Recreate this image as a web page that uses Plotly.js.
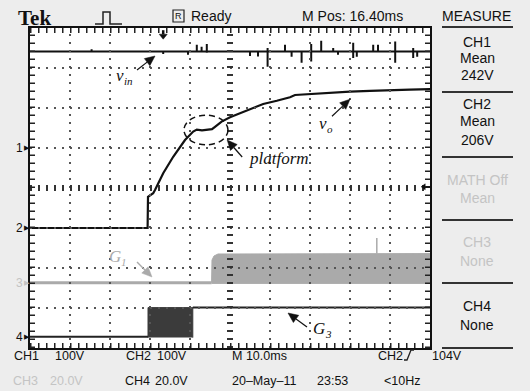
<!DOCTYPE html>
<html><head><meta charset="utf-8">
<script src="https://cdn.plot.ly/plotly-3.0.1.min.js"></script>
<style>html,body{margin:0;padding:0;background:#ededed;}</style>
</head><body><div id="chart" style="width:530px;height:391px;"></div>
<script>
// ---------- data (oscilloscope divisions: x 0..10, y -4..4) ----------
const vinBase = 3.41;
const vinSpikeX   = [1.54, 3.33, 3.95, 4.17, 4.29, 4.42, 5.5, 5.7, 5.94, 6.375, 6.54, 6.79, 7.03, 7.28, 7.58, 7.7, 8.08, 8.17, 8.58, 8.7, 9.13, 9.58, 9.68];
const vinSpikeTop = [3.47, 3.41, 3.41, 3.58, 3.53, 3.60, 3.41, 3.41, 3.50, 3.58, 3.41, 3.41, 3.60, 3.68, 3.50, 3.41, 3.63, 3.41, 3.58, 3.58, 3.66, 3.50, 3.41];
const vinSpikeBot = [3.41, 3.35, 3.33, 3.41, 3.41, 3.38, 3.30, 3.29, 3.03, 3.41, 3.28, 3.13, 3.16, 3.41, 3.41, 3.33, 3.25, 3.28, 3.41, 3.41, 3.13, 3.25, 3.28];

const voX = [0, 2.94, 2.95, 3.08, 3.125, 3.33, 3.58, 3.875, 4.08, 4.17, 4.3, 4.45, 4.55, 4.625, 4.79, 5.0, 5.25, 5.5, 5.83, 6.17, 6.5, 6.625, 7.0, 7.5, 8.0, 8.5, 9.0, 9.5, 10];
const voY = [-1, -1, -0.22, -0.13, -0.05, 0.37, 0.78, 1.2, 1.41, 1.46, 1.44, 1.45, 1.47, 1.53, 1.66, 1.77, 1.87, 1.97, 2.1, 2.18, 2.27, 2.325, 2.35, 2.38, 2.41, 2.43, 2.45, 2.46, 2.47];

const g1Low = -2.37;
const g1SwitchStart = 4.54;
const g1TopX = [4.54, 4.55, 4.6, 4.7, 10];
const g1TopY = [-2.37, -1.8, -1.7, -1.65, -1.64];
const g1SpikeX = 8.67, g1SpikeTop = -1.25;

const g3Low = -3.72, g3High = -2.99;
const g3PulseStart = 2.95, g3PulseEnd = 4.07;

// ---------- helpers ----------
const PX = x => (x - 30) / 400;     // pixel -> paper
const PY = y => (348 - y) / 320;
const SANS = 'Liberation Sans, Arial, sans-serif';
const SERIF = 'Liberation Serif, Times New Roman, serif';
const INK = '#111111', LIGHT = '#c4c4c4', G1C = '#aaaaaa';

// v_in polyline from spike arrays
const vinX = [0], vinY = [vinBase];
vinSpikeX.forEach((x, i) => {
  vinX.push(x, x, x, x);
  vinY.push(vinBase, vinSpikeTop[i], vinSpikeBot[i], vinBase);
});
vinX.push(10); vinY.push(vinBase);

const traces = [
  {x: g1TopX.concat([10, g1SwitchStart]), y: g1TopY.concat([g1Low - 0.015, g1Low - 0.015]),
   fill: 'toself', fillcolor: G1C, line: {color: G1C, width: 1}, mode: 'lines', hoverinfo: 'skip'},
  {x: [0, g1SwitchStart], y: [g1Low, g1Low], mode: 'lines', line: {color: G1C, width: 3}},
  {x: [g1SpikeX, g1SpikeX], y: [g1TopY[g1TopY.length - 1], g1SpikeTop], mode: 'lines', line: {color: G1C, width: 1.5}},
  {x: [g3PulseStart, g3PulseStart, g3PulseEnd, g3PulseEnd], y: [g3Low - 0.02, g3High, g3High, g3Low - 0.02],
   fill: 'toself', fillcolor: '#3b3b3b', line: {color: '#3b3b3b', width: 1}, mode: 'lines'},
  {x: [0, g3PulseStart], y: [g3Low, g3Low], mode: 'lines', line: {color: '#222', width: 2}},
  {x: [g3PulseEnd, 10], y: [g3High, g3High], mode: 'lines', line: {color: '#222', width: 2}},
  {x: vinX, y: vinY, mode: 'lines', line: {color: INK, width: 2}},
  {x: voX, y: voY, mode: 'lines', line: {color: INK, width: 2.2, shape: 'linear'}}
];

// ---------- grid & graticule as shapes ----------
const shapes = [];
const GRID = '#555555';
for (let i = 1; i < 10; i++) if (i !== 5)
  shapes.push({type: 'line', xref: 'x', yref: 'y', x0: i, x1: i, y0: -4, y1: 4, layer: 'above',
    line: {color: GRID, width: 2, dash: '2px,6px'}});
for (let j = -3; j < 4; j++) if (j !== 0)
  shapes.push({type: 'line', xref: 'x', yref: 'y', x0: 0, x1: 10, y0: j, y1: j, layer: 'above',
    line: {color: GRID, width: 2, dash: '2px,6px'}});
// centre cross with tick marks
shapes.push({type: 'line', xref: 'x', yref: 'y', x0: 0, x1: 10, y0: 0, y1: 0, layer: 'above',
  line: {color: '#333', width: 6, dash: '2px,6px'}});
shapes.push({type: 'line', xref: 'x', yref: 'y', x0: 5, x1: 5, y0: -4, y1: 4, layer: 'above',
  line: {color: '#333', width: 6, dash: '2px,6px'}});
// border ticks
const t = 2.5 / 40;
[[0, 10, 4 - t, 4 - t], [0, 10, -4 + t, -4 + t]].forEach(a => shapes.push({type: 'line', xref: 'x', yref: 'y',
  x0: a[0], x1: a[1], y0: a[2], y1: a[3], layer: 'above', line: {color: '#222', width: 5, dash: '1.5px,6.5px'}}));
[[t, t], [10 - t, 10 - t]].forEach(a => shapes.push({type: 'line', xref: 'x', yref: 'y',
  x0: a[0], x1: a[1], y0: -4, y1: 4, layer: 'above', line: {color: '#222', width: 5, dash: '1.5px,6.5px'}}));
// platform dashed ellipse
shapes.push({type: 'circle', xref: 'x', yref: 'y', x0: 3.85, x1: 4.95, y0: 1.08, y1: 1.82, layer: 'above',
  line: {color: INK, width: 1.5, dash: '6px,4px'}});
// right panel separators
[27, 92, 157, 220, 283, 348].forEach(y => shapes.push({type: 'line', xref: 'paper', yref: 'paper',
  x0: PX(442), x1: PX(513), y0: PY(y), y1: PY(y), line: {color: '#333', width: 2}}));
// header pulse icon
const P = (x, y) => PX(x) + ',' + PY(y);
shapes.push({type: 'path', xref: 'paper', yref: 'paper',
  path: 'M' + P(95, 24) + 'L' + P(103, 24) + 'L' + P(103, 12) + 'L' + P(110, 12) + 'L' + P(110, 24) + 'L' + P(122, 24),
  line: {color: '#222', width: 1.5}});
// R box
shapes.push({type: 'rect', xref: 'paper', yref: 'paper', x0: PX(173), x1: PX(184), y0: PY(22), y1: PY(10),
  line: {color: '#222', width: 1.2}});
// trigger slope symbol
shapes.push({type: 'path', xref: 'paper', yref: 'paper',
  path: 'M' + P(404, 360) + 'L' + P(407, 360) + 'L' + P(411, 350) + 'L' + P(414, 350),
  line: {color: '#222', width: 1.3}});

// arrows drawn as shapes (head in data units, tail offset in px; 1 div = 40 px)
function arrowShape(hx, hy, ax, ay, color, stemW, L, W) {
  const tx = hx + ax / 40, ty = hy - ay / 40;
  let ux = hx - tx, uy = hy - ty;
  const n = Math.hypot(ux, uy); ux /= n; uy /= n;
  const bx = hx - ux * L / 40, by = hy - uy * L / 40;
  const nx = -uy * W / 40, ny = ux * W / 40;
  shapes.push({type: 'line', xref: 'x', yref: 'y', x0: tx, y0: ty, x1: bx, y1: by, layer: 'above',
    line: {color: color, width: stemW}});
  shapes.push({type: 'path', xref: 'x', yref: 'y', layer: 'above', fillcolor: color, line: {color: color, width: 0.5},
    path: 'M' + hx + ',' + hy + 'L' + (bx + nx) + ',' + (by + ny) + 'L' + (bx - nx) + ',' + (by - ny) + 'Z'});
}
arrowShape(3.33, 3.72, 0, -9, INK, 2.5, 5, 4);   // trigger position
arrowShape(9.78, 0.03, 9, 0, INK, 1.5, 4, 3);    // trigger level
arrowShape(3.125, 3.3, -18, 14, INK, 1.2, 10, 4.5);
arrowShape(8.0, 2.22, -18, 17, INK, 1.2, 10, 4.5);
arrowShape(4.93, 1.2, 15, 17, INK, 1.2, 10, 4.5);
arrowShape(3.05, -2.225, -15, -15, G1C, 1.4, 10, 4.5);
arrowShape(6.45, -3.125, 19, 14, INK, 1.2, 10, 4.5);

// ---------- annotations ----------
const ann = [];
function txt(x, y, text, size, color, extra) {
  ann.push(Object.assign({xref: 'paper', yref: 'paper', x: PX(x), y: PY(y), text: text, showarrow: false,
    xanchor: 'center', yanchor: 'middle', font: {family: SANS, size: size, color: color}}, extra || {}));
}
// header
txt(34, 18, '<b>Tek</b>', 21, INK, {font: {family: SERIF, size: 21, color: INK}});
txt(178.5, 16, 'R', 9, INK);
txt(211, 16, 'Ready', 14, INK);
txt(352, 16, 'M Pos: 16.40ms', 14, INK);
txt(476, 16, 'MEASURE', 14, INK);
// right panel
txt(477, 42, 'CH1', 14, INK); txt(477, 58, 'Mean', 14, INK); txt(477, 75, '242V', 14, INK);
txt(477, 104, 'CH2', 14, INK); txt(477, 121, 'Mean', 14, INK); txt(477, 140, '206V', 14, INK);
txt(477, 180, 'MATH Off', 14, LIGHT); txt(477, 198, 'Mean', 14, LIGHT);
txt(477, 242, 'CH3', 14, LIGHT); txt(477, 261, 'None', 14, LIGHT);
txt(477, 306, 'CH4', 14, INK); txt(477, 325, 'None', 14, INK);
// bottom rows
txt(26.5, 356, 'CH1', 12.5, INK); txt(70, 356, '100V', 12.5, INK);
txt(138, 356, 'CH2', 12.5, INK); txt(172, 356, '100V', 12.5, INK);
txt(230, 356, 'M 10.0ms', 12.5, INK, {xanchor: 'left'});
txt(390, 356, 'CH2', 12.5, INK); txt(447, 356, '104V', 12.5, INK);
txt(25.5, 381, 'CH3', 12.5, LIGHT); txt(66, 381, '20.0V', 12.5, LIGHT);
txt(137, 381, 'CH4', 12.5, INK); txt(171, 381, '20.0V', 12.5, INK);
txt(230, 381, '20\u2013May\u201311', 12.5, INK, {xanchor: 'left'});
txt(315, 381, '23:53', 12.5, INK, {xanchor: 'left'});
txt(402, 381, '<10Hz', 12.5, INK);
// channel markers
[[148, '1', INK], [228, '2', INK], [283, '3', LIGHT], [337, '4', INK]].forEach(m => {
  txt(19, m[0], m[1], 12, m[2]);
  txt(26.5, m[0], '\u25B6', 7, m[2], {font: {family: 'DejaVu Sans', size: 7, color: m[2]}});
});
// trace labels (main letter + subscript as separate italic texts)
const LBL = (x, y, t, color, size, anchor) => ann.push({xref: 'x', yref: 'y', x: x, y: y, text: '<i>' + t + '</i>', showarrow: false,
  xanchor: anchor || 'center', yanchor: 'middle', font: {family: SERIF, size: size || 17, color: color}});
LBL(2.245, 2.82, 'v', INK); LBL(2.45, 2.68, 'in', INK, 11);
LBL(7.32, 1.62, 'v', INK); LBL(7.5, 1.48, 'o', INK, 11);
LBL(5.43, 0.75, 'platform', INK, 17, 'left');
LBL(2.125, -1.71, 'G', G1C); LBL(2.35, -1.85, '1', G1C, 11);
LBL(7.225, -3.51, 'G', INK); LBL(7.45, -3.65, '3', INK, 11);

const layout = {
  width: 530, height: 391,
  margin: {l: 30, r: 100, t: 28, b: 43},
  paper_bgcolor: '#ededed', plot_bgcolor: '#ffffff',
  showlegend: false,
  xaxis: {range: [0, 10], showgrid: false, zeroline: false, showticklabels: false, ticks: '',
    showline: true, mirror: true, linecolor: '#111', linewidth: 2, fixedrange: true},
  yaxis: {range: [-4, 4], showgrid: false, zeroline: false, showticklabels: false, ticks: '',
    showline: true, mirror: true, linecolor: '#111', linewidth: 2, fixedrange: true},
  shapes: shapes, annotations: ann
};
Plotly.newPlot('chart', traces, layout, {displayModeBar: false, staticPlot: true});
</script></body></html>
